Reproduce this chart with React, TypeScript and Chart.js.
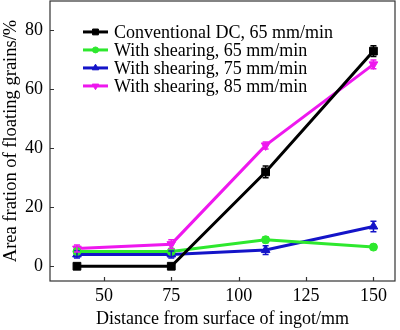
import React, { useEffect, useRef } from "react";
import { Chart, registerables } from "chart.js";
import { drawPoint } from "chart.js/helpers";

Chart.register(...registerables);

const distances = [40, 75, 110, 150];
const seriesNames = [
  "Conventional DC, 65 mm/min",
  "With shearing, 65 mm/min",
  "With shearing, 75 mm/min",
  "With shearing, 85 mm/min",
];
const conventional65 = [0, 0, 32, 73];
const shearing65 = [5, 5, 9, 6.5];
const shearing75 = [4, 4, 5.5, 13.5];
const shearing85 = [6, 7.5, 41, 68.5];
const errConventional65 = [0.5, 0.5, 2, 1.8];
const errShearing65 = [0.6, 0.6, 1, 0.8];
const errShearing75 = [1.2, 1.2, 1.5, 1.8];
const errShearing85 = [1.2, 1.5, 1.2, 1.5];
const xTicks = [50, 75, 100, 125, 150];
const yTicks = [0, 20, 40, 60, 80];

const FONT = "'Liberation Serif', 'Times New Roman', serif";

const framePlugin = {
  id: "frameAndExtras",
  afterDatasetsDraw(chart: any) {
    const { ctx, chartArea, scales } = chart;
    const { left, right, top, bottom } = chartArea;
    ctx.save();
    // error bars
    chart.data.datasets.forEach((ds: any, i: number) => {
      const meta = chart.getDatasetMeta(i);
      ctx.strokeStyle = ds.borderColor;
      ctx.lineWidth = 1.5;
      meta.data.forEach((pt: any, j: number) => {
        const v = ds.data[j].y;
        const e = ds.errors[j];
        const y1 = scales.y.getPixelForValue(v - e);
        const y2 = scales.y.getPixelForValue(v + e);
        ctx.beginPath();
        ctx.moveTo(pt.x, y1);
        ctx.lineTo(pt.x, y2);
        ctx.moveTo(pt.x - 3, y1);
        ctx.lineTo(pt.x + 3, y1);
        ctx.moveTo(pt.x - 3, y2);
        ctx.lineTo(pt.x + 3, y2);
        ctx.stroke();
      });
    });
    // frame
    ctx.strokeStyle = "#333";
    ctx.lineWidth = 1.2;
    ctx.strokeRect(left, top, right - left, bottom - top);
    // inward ticks
    ctx.beginPath();
    xTicks.forEach((t) => {
      const x = Math.round(scales.x.getPixelForValue(t)) + 0.5;
      ctx.moveTo(x, bottom);
      ctx.lineTo(x, bottom - 4);
    });
    yTicks.forEach((t) => {
      const y = Math.round(scales.y.getPixelForValue(t)) + 0.5;
      ctx.moveTo(left, y);
      ctx.lineTo(left + 4, y);
    });
    ctx.stroke();
    // legend
    const lx = left + 33;
    chart.data.datasets.forEach((ds: any, i: number) => {
      const y = scales.y.getPixelForValue(79.5) + i * 18;
      ctx.strokeStyle = ds.borderColor;
      ctx.lineWidth = 3;
      ctx.beginPath();
      ctx.moveTo(lx, y);
      ctx.lineTo(lx + 25, y);
      ctx.stroke();
      ctx.fillStyle = ds.borderColor;
      ctx.lineWidth = 1;
      drawPoint(
        ctx,
        {
          pointStyle: ds.pointStyle,
          rotation: ds.pointRotation || 0,
          radius: ds.pointRadius * 0.75,
          borderWidth: 1,
        } as any,
        lx + 12.5,
        y
      );
      ctx.fillStyle = "#000";
      ctx.font = `18px ${FONT}`;
      ctx.textBaseline = "middle";
      ctx.textAlign = "left";
      ctx.fillText(ds.label, lx + 31, y + 1);
    });
    ctx.restore();
  },
};

function mk(label: string, ys: number[], errs: number[], color: string, style: string, radius: number, rot = 0) {
  return {
    label,
    data: distances.map((x, i) => ({ x, y: ys[i] })),
    errors: errs,
    borderColor: color,
    backgroundColor: color,
    borderWidth: 3,
    pointStyle: style,
    pointRotation: rot,
    pointRadius: radius,
    pointBorderWidth: 1,
    tension: 0,
  };
}

export default function App() {
  const ref = useRef<HTMLCanvasElement>(null);
  useEffect(() => {
    if (!ref.current) return;
    const chart = new Chart(ref.current, {
      type: "line",
      data: {
        datasets: [
          mk(seriesNames[0], conventional65, errConventional65, "#000000", "rect", 5.5),
          mk(seriesNames[1], shearing65, errShearing65, "#2ee82e", "circle", 4),
          mk(seriesNames[2], shearing75, errShearing75, "#1414c8", "triangle", 5),
          mk(seriesNames[3], shearing85, errShearing85, "#ee18ee", "triangle", 5, 180),
        ] as any,
      },
      options: {
        animation: false,
        responsive: true,
        maintainAspectRatio: false,
        layout: { autoPadding: false, padding: { top: 1, right: 5, left: 0, bottom: 0 } },
        plugins: { legend: { display: false }, tooltip: { enabled: false } },
        scales: {
          x: {
            type: "linear",
            min: 30,
            max: 158,
            afterFit: (s: any) => {
              s.height = 49;
              s.paddingLeft = 0;
              s.paddingRight = 0;
            },
            afterBuildTicks: (s: any) => {
              s.ticks = xTicks.map((v) => ({ value: v }));
            },
            grid: { display: false, drawTicks: false },
            border: { display: false },
            ticks: { color: "#000", font: { family: FONT, size: 18 }, padding: 4, maxRotation: 0 },
            title: {
              display: true,
              text: "Distance from surface of ingot/mm",
              color: "#000",
              font: { family: FONT, size: 18 },
              padding: { top: 0, bottom: 0 },
            },
          },
          y: {
            type: "linear",
            min: -5,
            max: 90,
            afterFit: (s: any) => {
              s.width = 50;
              s.paddingTop = 0;
              s.paddingBottom = 0;
            },
            afterBuildTicks: (s: any) => {
              s.ticks = yTicks.map((v) => ({ value: v }));
            },
            grid: { display: false, drawTicks: false },
            border: { display: false },
            ticks: { color: "#000", font: { family: FONT, size: 18 }, padding: 7 },
            title: {
              display: true,
              text: "Area fration of floating grains/%",
              color: "#000",
              font: { family: FONT, size: 18.5 },
              padding: { top: 0, bottom: 0 },
            },
          },
        },
      },
      plugins: [framePlugin],
    });
    return () => chart.destroy();
  }, []);
  return (
    <div style={{ position: "absolute", left: 0, top: 0, width: 400, height: 330, background: "#fff" }}>
      <canvas ref={ref} />
    </div>
  );
}
